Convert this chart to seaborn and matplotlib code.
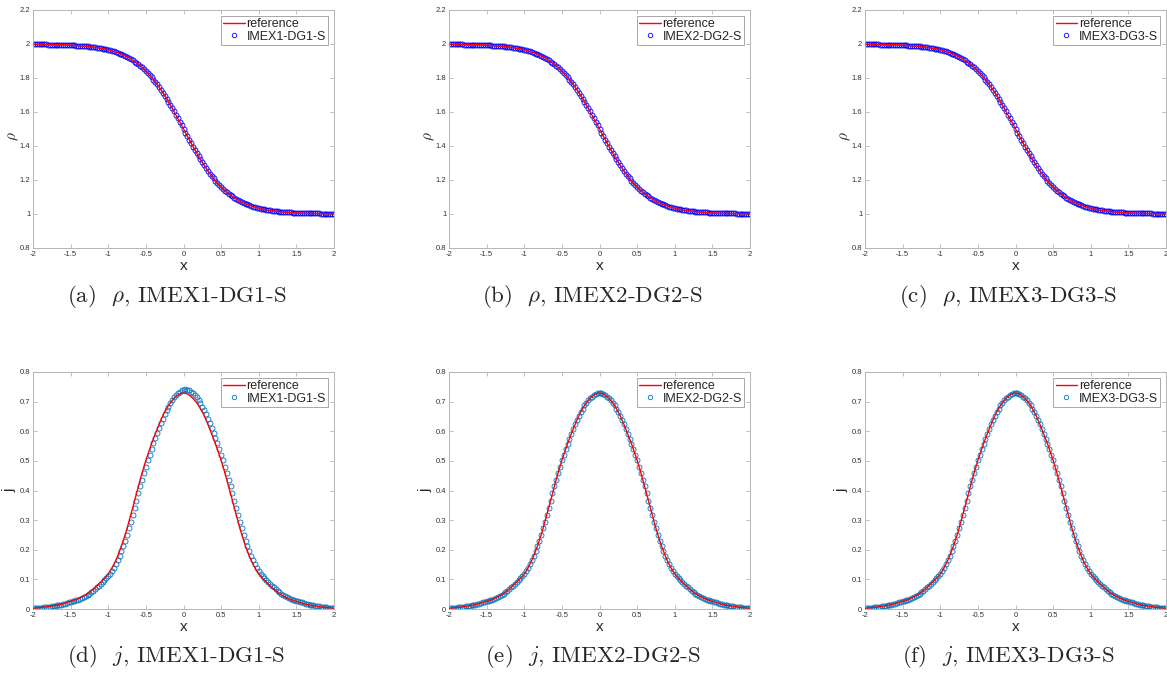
import numpy as np
import matplotlib
matplotlib.use("Agg")
import matplotlib.pyplot as plt
import seaborn as sns
from matplotlib.ticker import FuncFormatter, MultipleLocator

# grid points, x in [-2, 2], step 0.025
x = np.linspace(-2, 2, 161)

# density rho (reference)
rho_ref = [1.999, 1.999, 1.998, 1.998, 1.998, 1.998, 1.998, 1.998, 1.997, 1.997,
           1.997, 1.997, 1.996, 1.996, 1.996, 1.996, 1.995, 1.995, 1.994, 1.994,
           1.993, 1.993, 1.992, 1.991, 1.991, 1.990, 1.989, 1.988, 1.987, 1.986,
           1.985, 1.983, 1.982, 1.980, 1.979, 1.977, 1.975, 1.973, 1.971, 1.968,
           1.965, 1.963, 1.959, 1.956, 1.952, 1.949, 1.944, 1.940, 1.935, 1.930,
           1.924, 1.918, 1.912, 1.905, 1.897, 1.889, 1.881, 1.872, 1.862, 1.852,
           1.841, 1.830, 1.817, 1.805, 1.791, 1.777, 1.762, 1.747, 1.731, 1.714,
           1.697, 1.679, 1.661, 1.642, 1.622, 1.603, 1.582, 1.562, 1.541, 1.521,
           1.500,
           1.479, 1.459, 1.438, 1.418, 1.397, 1.378, 1.358, 1.339, 1.321, 1.303,
           1.286, 1.269, 1.253, 1.238, 1.223, 1.209, 1.195, 1.183, 1.170, 1.159,
           1.148, 1.138, 1.128, 1.119, 1.111, 1.103, 1.095, 1.088, 1.082, 1.076,
           1.070, 1.065, 1.060, 1.056, 1.051, 1.048, 1.044, 1.041, 1.037, 1.035,
           1.032, 1.029, 1.027, 1.025, 1.023, 1.021, 1.020, 1.018, 1.017, 1.015,
           1.014, 1.013, 1.012, 1.011, 1.010, 1.009, 1.009, 1.008, 1.007, 1.007,
           1.006, 1.006, 1.005, 1.005, 1.004, 1.004, 1.004, 1.004, 1.003, 1.003,
           1.003, 1.003, 1.002, 1.002, 1.002, 1.002, 1.002, 1.002, 1.001, 1.001]

# numerical rho lies on top of the reference for all three schemes
rho_imex1 = list(rho_ref)
rho_imex2 = list(rho_ref)
rho_imex3 = list(rho_ref)

# flux j (reference)
j_ref = [0.003, 0.003, 0.004, 0.004, 0.005, 0.006, 0.006, 0.007, 0.008, 0.009,
         0.010, 0.011, 0.012, 0.013, 0.015, 0.016, 0.018, 0.020, 0.022, 0.024,
         0.026, 0.028, 0.030, 0.032, 0.035, 0.038, 0.041, 0.044, 0.048, 0.052,
         0.057, 0.062, 0.067, 0.073, 0.079, 0.085, 0.091, 0.097, 0.104, 0.111,
         0.119, 0.128, 0.139, 0.151, 0.164, 0.179, 0.195, 0.212, 0.231, 0.251,
         0.272, 0.295, 0.318, 0.342, 0.366, 0.390, 0.414, 0.437, 0.460, 0.481,
         0.502, 0.521, 0.540, 0.558, 0.575, 0.591, 0.607, 0.623, 0.638, 0.652,
         0.665, 0.676, 0.687, 0.696, 0.704, 0.711, 0.717, 0.722, 0.726, 0.728,
         0.729,
         0.728, 0.726, 0.722, 0.717, 0.711, 0.704, 0.696, 0.687, 0.676, 0.665,
         0.652, 0.638, 0.623, 0.607, 0.591, 0.575, 0.558, 0.540, 0.521, 0.502,
         0.481, 0.460, 0.437, 0.414, 0.390, 0.366, 0.342, 0.318, 0.295, 0.272,
         0.251, 0.231, 0.212, 0.195, 0.179, 0.164, 0.151, 0.139, 0.128, 0.119,
         0.111, 0.104, 0.097, 0.091, 0.085, 0.079, 0.073, 0.067, 0.062, 0.057,
         0.052, 0.048, 0.044, 0.041, 0.038, 0.035, 0.032, 0.030, 0.028, 0.026,
         0.024, 0.022, 0.020, 0.018, 0.016, 0.015, 0.013, 0.012, 0.011, 0.010,
         0.009, 0.008, 0.007, 0.006, 0.006, 0.005, 0.004, 0.004, 0.003, 0.003]

# first order scheme: higher peak (~0.741), profile shifted slightly to the right
j_imex1 = [0.003, 0.003, 0.003, 0.004, 0.004, 0.005, 0.006, 0.006, 0.007, 0.008,
           0.009, 0.010, 0.011, 0.012, 0.013, 0.015, 0.016, 0.018, 0.020, 0.022,
           0.024, 0.026, 0.028, 0.030, 0.032, 0.035, 0.038, 0.041, 0.044, 0.048,
           0.052, 0.057, 0.062, 0.067, 0.073, 0.079, 0.085, 0.091, 0.097, 0.104,
           0.111, 0.119, 0.128, 0.139, 0.151, 0.164, 0.179, 0.195, 0.212, 0.231,
           0.251, 0.272, 0.295, 0.318, 0.342, 0.366, 0.390, 0.414, 0.437, 0.460,
           0.481, 0.502, 0.521, 0.540, 0.559, 0.576, 0.593, 0.610, 0.627, 0.642,
           0.657, 0.671, 0.683, 0.695, 0.705, 0.714, 0.721, 0.728, 0.733, 0.738,
           0.740,
           0.741, 0.740, 0.738, 0.733, 0.728, 0.721, 0.714, 0.705, 0.695, 0.683,
           0.671, 0.657, 0.642, 0.627, 0.610, 0.593, 0.576, 0.559, 0.540, 0.521,
           0.502, 0.481, 0.460, 0.437, 0.414, 0.390, 0.366, 0.342, 0.318, 0.295,
           0.272, 0.251, 0.231, 0.212, 0.195, 0.179, 0.164, 0.151, 0.139, 0.128,
           0.119, 0.111, 0.104, 0.097, 0.091, 0.085, 0.079, 0.073, 0.067, 0.062,
           0.057, 0.052, 0.048, 0.044, 0.041, 0.038, 0.035, 0.032, 0.030, 0.028,
           0.026, 0.024, 0.022, 0.020, 0.018, 0.016, 0.015, 0.013, 0.012, 0.011,
           0.010, 0.009, 0.008, 0.007, 0.006, 0.006, 0.005, 0.004, 0.004, 0.003]
j_imex2 = list(j_ref)
j_imex3 = list(j_ref)

schemes = ["IMEX1-DG1-S", "IMEX2-DG2-S", "IMEX3-DG3-S"]
rho_num = [rho_imex1, rho_imex2, rho_imex3]
j_num = [j_imex1, j_imex2, j_imex3]
letters_top = ["a", "b", "c"]
letters_bot = ["d", "e", "f"]

for arr in [rho_ref, j_ref, j_imex1]:
    assert len(arr) == len(x), len(arr)

sns.set_style("ticks")
plt.rcParams["font.family"] = ["Liberation Sans", "DejaVu Sans"]
plt.rcParams["mathtext.fontset"] = "cm"

W, H = 1167, 686
fig = plt.figure(figsize=(W / 100, H / 100), dpi=100)

lefts = [33, 449, 865]
axw = 301
rows = [(10, 248), (372, 609)]  # top / bottom pixel edges of each row

spine_col = "#b5b5b5"
fmt = FuncFormatter(lambda v, p: f"{v:g}")


def style_axes(ax):
    for s in ax.spines.values():
        s.set_color(spine_col)
        s.set_linewidth(0.7)
        s.set_visible(True)
    ax.tick_params(direction="in", length=3, width=0.6, top=True, right=True,
                   colors=spine_col, labelcolor="#333333", labelsize=5.5, pad=2)
    ax.xaxis.set_major_formatter(fmt)
    ax.yaxis.set_major_formatter(fmt)
    ax.set_xlim(-2, 2)
    ax.xaxis.set_major_locator(MultipleLocator(0.5))


for r, (top, bot) in enumerate(rows):
    for c in range(3):
        ax = fig.add_axes([lefts[c] / W, 1 - bot / H, axw / W, (bot - top) / H])
        if r == 0:
            yref, ynum = rho_ref, rho_num[c]
            mcol = "#0000ff"
        else:
            yref, ynum = j_ref, j_num[c]
            mcol = "#0072bd"

        sns.lineplot(x=x, y=yref, ax=ax, color="red", linewidth=1.0,
                     label="reference", zorder=3)
        sns.lineplot(x=x, y=ynum, ax=ax, color=mcol, marker="o", linestyle="none",
                     markersize=3.6, markerfacecolor="none", markeredgecolor=mcol,
                     markeredgewidth=0.6, label=schemes[c], zorder=2)

        style_axes(ax)
        if r == 0:
            ax.set_ylim(0.8, 2.2)
            ax.yaxis.set_major_locator(MultipleLocator(0.2))
            ax.set_ylabel(r"$\rho$", fontsize=11, family="DejaVu Sans")
            ax.yaxis.set_label_coords(-0.04, 0.47)
        else:
            ax.set_ylim(0, 0.8)
            ax.yaxis.set_major_locator(MultipleLocator(0.1))
            ax.set_ylabel("j", fontsize=11)
            ax.yaxis.set_label_coords(-0.056, 0.5)
        ax.set_xlabel("x", fontsize=11)
        ax.xaxis.set_label_coords(0.5, -0.045)

        leg = ax.legend(loc="upper right", fontsize=9, frameon=True, fancybox=False,
                        edgecolor="#a8a8a8", framealpha=1, handlelength=1.7,
                        handletextpad=0.15, borderpad=0.2, labelspacing=0.05,
                        borderaxespad=0.45, markerscale=0.9)
        leg.get_frame().set_linewidth(0.7)

        # sub-figure caption
        letter = letters_top[c] if r == 0 else letters_bot[c]
        var = r"$\rho$" if r == 0 else r"$j$"
        cx = (lefts[c] + axw / 2 - 7) / W
        cy = 1 - (bot + 48) / H
        fig.text(cx, cy, f"({letter})  {var}, {schemes[c]}", ha="center", va="center",
                 fontsize=16.5, family="cmr10")

fig.savefig("out.png", dpi=100)
